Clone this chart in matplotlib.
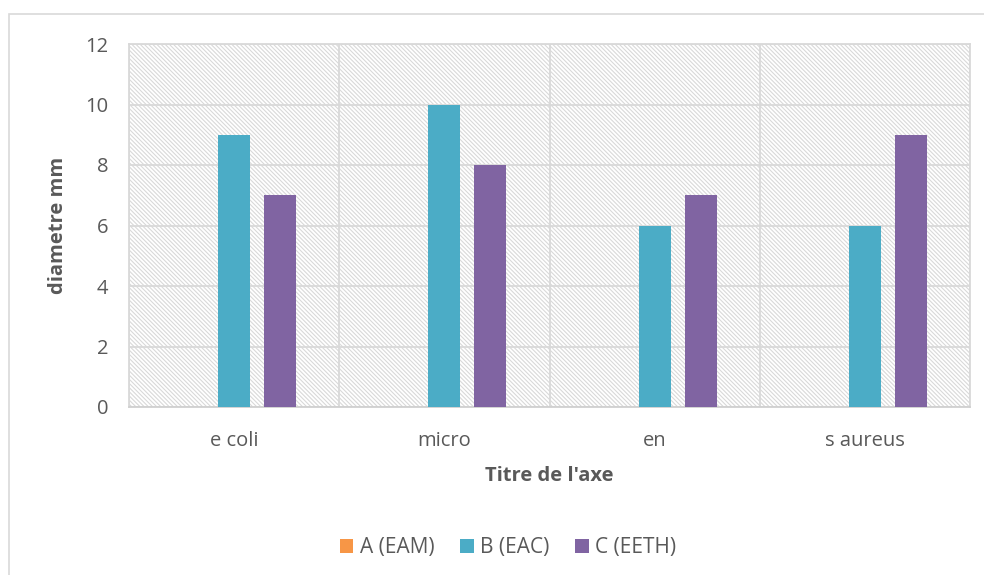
import matplotlib
matplotlib.use("Agg")
import matplotlib.pyplot as plt
import matplotlib.patches as mpatches
import numpy as np

categories = ["e coli", "micro", "en", "s aureus"]
series_names = ["A (EAM)", "B (EAC)", "C (EETH)"]
values_a = [0, 0, 0, 0]
values_b = [9, 10, 6, 6]
values_c = [7, 8, 7, 9]
colors = ["#F79646", "#4BACC6", "#8064A2"]
yticks = [0, 2, 4, 6, 8, 10, 12]

plt.rcParams['font.family'] = ['Open Sans', 'DejaVu Sans']
plt.rcParams['hatch.linewidth'] = 0.8
text_color = "#595959"
grid_color = "#D9D9D9"
fs = 14.5

fig = plt.figure(figsize=(9.84, 5.75), dpi=100)
ax = fig.add_axes([129/984, 1-407/575, (970-129)/984, (407-44)/575])

# outer chart border
fig.patches.append(mpatches.Rectangle((9/984, -0.05), 1.2, 1.05 - 14/575,
                                      transform=fig.transFigure, fill=False,
                                      edgecolor=grid_color, linewidth=1.2))

# hatched plot area background
ax.add_patch(mpatches.Rectangle((0, 0), 1, 1, transform=ax.transAxes,
                                facecolor="white", edgecolor="#D9D9D9",
                                hatch="\\" * 8, linewidth=0, zorder=0))

x = np.arange(len(categories))
width = 0.152
offset = 0.219
for i, (vals, name, col) in enumerate(zip([values_a, values_b, values_c], series_names, colors)):
    ax.bar(x + (i - 1) * offset, vals, width=width, color=col, label=name, zorder=3)

ax.set_xlim(-0.5, len(categories) - 0.5)
ax.set_ylim(0, 12)
ax.set_yticks(yticks)
ax.set_xticks(x)
ax.set_xticklabels(categories)
ax.set_xticks(np.arange(len(categories) + 1) - 0.5, minor=True)

ax.grid(axis='y', which='major', color=grid_color, linewidth=1.3, zorder=1)
ax.grid(axis='x', which='minor', color=grid_color, linewidth=1.3, zorder=1)
ax.set_axisbelow(True)

for s in ax.spines.values():
    s.set_color(grid_color)
    s.set_linewidth(1.3)
ax.spines['bottom'].set_color("#D0D0D0")

ax.tick_params(axis='both', which='both', length=0, labelsize=fs, colors=text_color)
ax.tick_params(axis='y', pad=15)
ax.tick_params(axis='x', pad=17)

ax.set_ylabel("diametre mm", fontsize=fs, fontweight='bold', color=text_color)
ax.yaxis.set_label_coords(-0.0725, 0.5)
ax.set_xlabel("Titre de l'axe", fontsize=fs, fontweight='bold', color=text_color)
ax.xaxis.set_label_coords(0.5, -0.163)

handles, labels = ax.get_legend_handles_labels()
fig.legend(handles, labels, loc='center', bbox_to_anchor=(508/984, 1-548/575), ncol=3,
           frameon=False, fontsize=15, labelcolor=text_color, handlelength=0.65,
           handleheight=0.65, handletextpad=0.3, columnspacing=1.25)

fig.savefig("out.png", dpi=100)
